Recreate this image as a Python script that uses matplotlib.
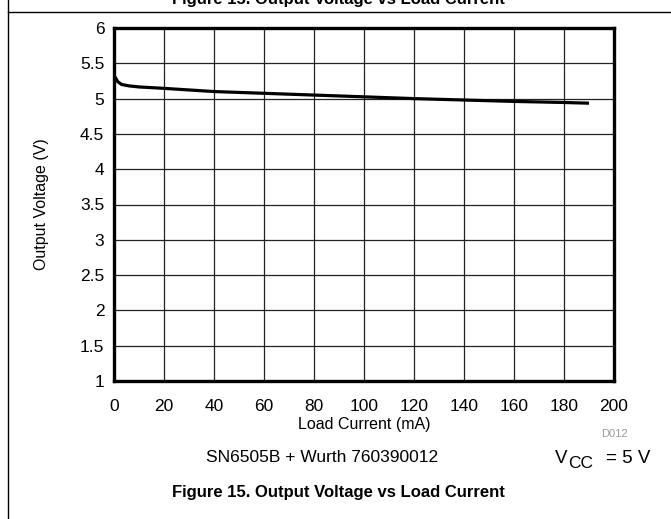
import matplotlib
matplotlib.use("Agg")
import matplotlib.pyplot as plt
from matplotlib.lines import Line2D

plt.rcParams["font.family"] = ["Liberation Sans", "DejaVu Sans"]

# Output voltage vs load current
load_ma = [0, 0.5, 1.5, 3, 6, 10, 20, 40, 60, 80, 100, 120, 140, 160, 180, 190]
vout = [5.32, 5.30, 5.24, 5.20, 5.18, 5.165, 5.145, 5.10, 5.075, 5.05,
        5.025, 5.00, 4.98, 4.96, 4.945, 4.935]

x_ticks = list(range(0, 201, 20))
y_ticks = [1, 1.5, 2, 2.5, 3, 3.5, 4, 4.5, 5, 5.5, 6]
y_tick_labels = ["1", "1.5", "2", "2.5", "3", "3.5", "4", "4.5", "5", "5.5", "6"]

W, H = 671, 519
fig = plt.figure(figsize=(W / 100, H / 100), dpi=100)
ax = fig.add_axes([114 / W, 1 - 381 / H, 500 / W, 353 / H])

ax.plot(load_ma, vout, color="black", lw=2.3, solid_capstyle="butt")
ax.set_xlim(0, 200)
ax.set_ylim(1, 6)
ax.set_xticks(x_ticks)
ax.set_yticks(y_ticks)
ax.set_yticklabels(y_tick_labels)
ax.tick_params(length=0, labelsize=12.5)
ax.tick_params(axis="x", pad=13)
ax.tick_params(axis="y", pad=7)
ax.grid(True, color="#222222", lw=0.9)
ax.set_axisbelow(True)
for s in ax.spines.values():
    s.set_linewidth(2.4)
ax.set_xlabel("Load Current (mA)", fontsize=11.5, labelpad=2)
ax.set_ylabel("Output Voltage (V)", fontsize=11.5, labelpad=22)

# frame lines of the datasheet figure box
fig.add_artist(Line2D([8 / W, 8 / W], [0, 1], color="black", lw=1.0))
fig.add_artist(Line2D([8 / W, 1], [1 - 12 / H, 1 - 12 / H], color="black", lw=1.0))

# title of the figure, cut off at the top edge as in the datasheet crop
fig.text(338 / W, 1 - 4 / H, "Figure 15. Output Voltage vs Load Current",
         ha="center", va="baseline", fontsize=12, fontweight="bold")

fig.text(628 / W, 1 - 434 / H, "D012", ha="right", va="center",
         fontsize=8, color="#999999")
fig.text(322 / W, 1 - 457 / H, "SN6505B + Wurth 760390012",
         ha="center", va="center", fontsize=12.5)
fig.text(555 / W, 1 - 463 / H, "V", ha="left", va="baseline", fontsize=13.5)
fig.text(568 / W, 1 - 468 / H, "CC", ha="left", va="baseline", fontsize=12.5)
fig.text(650 / W, 1 - 463 / H, "= 5 V", ha="right", va="baseline", fontsize=13.5)
fig.text(338 / W, 1 - 493 / H, "Figure 15. Output Voltage vs Load Current",
         ha="center", va="center", fontsize=12, fontweight="bold")

fig.savefig("out.png", dpi=100)
